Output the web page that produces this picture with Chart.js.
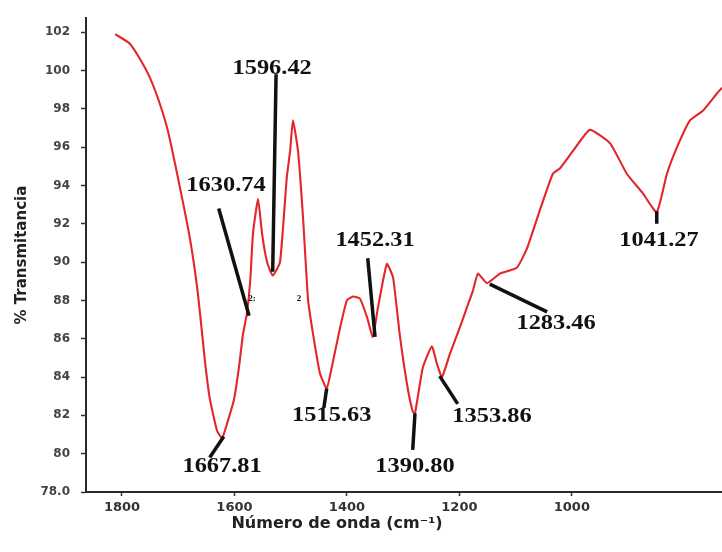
<!DOCTYPE html>
<html>
<head>
<meta charset="utf-8">
<script src="https://cdn.jsdelivr.net/npm/chart.js@4.4.0/dist/chart.umd.min.js"></script>
<style>
  html, body { margin: 0; padding: 0; background: #fff; }
  #wrap { width: 722px; height: 552px; }
</style>
</head>
<body>
<div id="wrap"><canvas id="irChart" width="722" height="552"></canvas></div>
<script>
// FTIR spectrum
const wavenumber = [1812, 1786, 1768, 1750, 1732, 1718, 1697, 1679, 1666, 1658, 1652, 1644, 1631, 1622, 1617, 1601, 1592, 1585, 1578, 1572, 1567, 1558, 1551, 1542, 1532, 1519, 1507, 1501, 1496, 1487, 1478, 1469, 1460, 1448, 1436, 1427, 1412, 1400, 1389, 1377, 1364, 1354, 1345, 1329, 1318, 1306, 1293, 1283, 1279, 1265, 1249, 1240, 1231, 1217, 1199, 1187, 1176, 1167, 1151, 1128, 1098, 1080, 1057, 1034, 1021, 998, 968, 932, 902, 874, 849, 831, 813, 790, 767, 742, 733];
const transmittance = [101.9, 101.4, 100.6, 99.6, 98.2, 96.8, 93.9, 91.2, 88.6, 86.4, 84.7, 82.9, 81.2, 80.8, 81.2, 82.8, 84.5, 86.2, 87.3, 89.0, 91.5, 93.3, 91.5, 90.0, 89.3, 90.0, 94.4, 95.8, 97.4, 95.8, 92.3, 88.0, 86.2, 84.2, 83.4, 84.5, 86.6, 88.0, 88.2, 88.1, 87.1, 86.1, 87.6, 89.9, 89.2, 86.2, 83.6, 82.2, 82.1, 84.5, 85.6, 84.7, 84.0, 85.2, 86.6, 87.6, 88.5, 89.4, 88.9, 89.4, 89.7, 90.7, 92.7, 94.6, 94.9, 95.8, 96.9, 96.2, 94.6, 93.6, 92.6, 94.6, 96.0, 97.4, 97.9, 98.8, 99.1];

const xTicks = [1800, 1600, 1400, 1200, 1000];
const yTicks = [78, 80, 82, 84, 86, 88, 90, 92, 94, 96, 98, 100, 102];

// peak labels: text position and leader line (from -> to), in data units
const peakLabels = ['1596.42', '1630.74', '1667.81', '1515.63', '1452.31', '1390.80', '1353.86', '1283.46', '1041.27'];
const labelX = [1533, 1615, 1622, 1427, 1350, 1279, 1142, 1028, 845];
const labelY = [100.1, 94.0, 79.3, 82.0, 91.1, 79.3, 81.9, 86.8, 91.1];
const leaderFromX = [1526, 1628, 1619, 1436, 1363, 1279, 1235, 1146, 849];
const leaderFromY = [99.8, 92.8, 80.9, 83.4, 90.2, 82.1, 84.05, 88.85, 92.65];
const leaderToX = [1532, 1574, 1644, 1441, 1350, 1283, 1203, 1044, 849];
const leaderToY = [89.5, 87.2, 79.8, 82.4, 86.1, 80.2, 82.6, 87.4, 92.0];

// small stray marks in the original figure
const strayText = ['2:', '2'];
const strayX = [1569, 1485];
const strayY = [88.1, 88.1];

const spectrum = wavenumber.map((w, i) => ({ x: w, y: transmittance[i] }));

const leaderSets = peakLabels.map((lab, i) => ({
    label: 'leader ' + lab,
    data: [{ x: leaderFromX[i], y: leaderFromY[i] }, { x: leaderToX[i], y: leaderToY[i] }],
    borderColor: '#111',
    borderWidth: 3.5,
    pointRadius: 0,
    order: 0
}));

const peakTextPlugin = {
    id: 'peakText',
    afterDatasetsDraw(chart) {
        const ctx = chart.ctx;
        const xs = chart.scales.x, ys = chart.scales.y;
        ctx.save();
        ctx.fillStyle = '#111';
        ctx.textAlign = 'center';
        ctx.textBaseline = 'middle';
        ctx.font = 'bold 20px "Liberation Serif"';
        peakLabels.forEach((lab, i) => {
            ctx.save();
            ctx.translate(xs.getPixelForValue(labelX[i]), ys.getPixelForValue(labelY[i]));
            ctx.scale(1.22, 1);
            ctx.fillText(lab, 0, 0);
            ctx.restore();
        });
        ctx.font = 'bold 9px "Liberation Serif"';
        strayText.forEach((t, i) => {
            ctx.fillText(t, xs.getPixelForValue(strayX[i]), ys.getPixelForValue(strayY[i]));
        });
        // x axis title, left of centre as in the original
        const a = chart.chartArea;
        ctx.fillStyle = '#222';
        ctx.font = 'bold 16px "DejaVu Sans"';
        ctx.fillText('Número de onda (cm⁻¹)', a.left + 251, a.bottom + 32);
        ctx.restore();
    }
};

document.addEventListener('DOMContentLoaded', function() {
    const ctx = document.getElementById('irChart').getContext('2d');

    new Chart(ctx, {
        type: 'line',
        data: {
            datasets: [
                ...leaderSets,
                {
                    label: '% Transmitancia',
                    data: spectrum,
                    borderColor: 'rgb(226, 38, 44)',
                    borderWidth: 2.1,
                    pointRadius: 0,
                    tension: 0.15,
                    order: 1
                }
            ]
        },
        options: {
            responsive: false,
            animation: false,
            layout: { padding: { top: 18, right: 0, bottom: 0, left: 0 } },
            plugins: {
                legend: { display: false },
                tooltip: { enabled: false }
            },
            scales: {
                x: {
                    type: 'linear',
                    reverse: true,
                    min: 733,
                    max: 1864,
                    afterBuildTicks: (s) => { s.ticks = xTicks.map(v => ({ value: v })); },
                    afterFit: (s) => { s.height = 60; },
                    grid: { drawOnChartArea: false, tickLength: 4, color: '#333', tickWidth: 1.5 },
                    border: { color: '#2a2a2a', width: 2 },
                    ticks: {
                        padding: 4,
                        color: '#333',
                        font: { family: 'DejaVu Sans', weight: 'bold', size: 13 },
                        maxRotation: 0,
                        callback: (v) => String(v)
                    }
                },
                y: {
                    min: 78,
                    max: 102.73,
                    afterBuildTicks: (s) => { s.ticks = yTicks.map(v => ({ value: v })); },
                    afterFit: (s) => { s.width = 86; },
                    grid: { drawOnChartArea: false, tickLength: 5, color: '#333', tickWidth: 1.5 },
                    border: { color: '#2a2a2a', width: 2 },
                    ticks: {
                        padding: 11,
                        color: '#444',
                        font: { family: 'DejaVu Sans', weight: 'bold', size: 12 },
                        callback: (v) => v === 78 ? '78.0' : String(v)
                    },
                    title: {
                        display: true,
                        text: '% Transmitancia',
                        color: '#222',
                        font: { family: 'DejaVu Sans', weight: 'bold', size: 15 },
                        padding: { top: 13, bottom: 0 }
                    }
                }
            }
        },
        plugins: [peakTextPlugin]
    });
});
</script>
</body>
</html>
